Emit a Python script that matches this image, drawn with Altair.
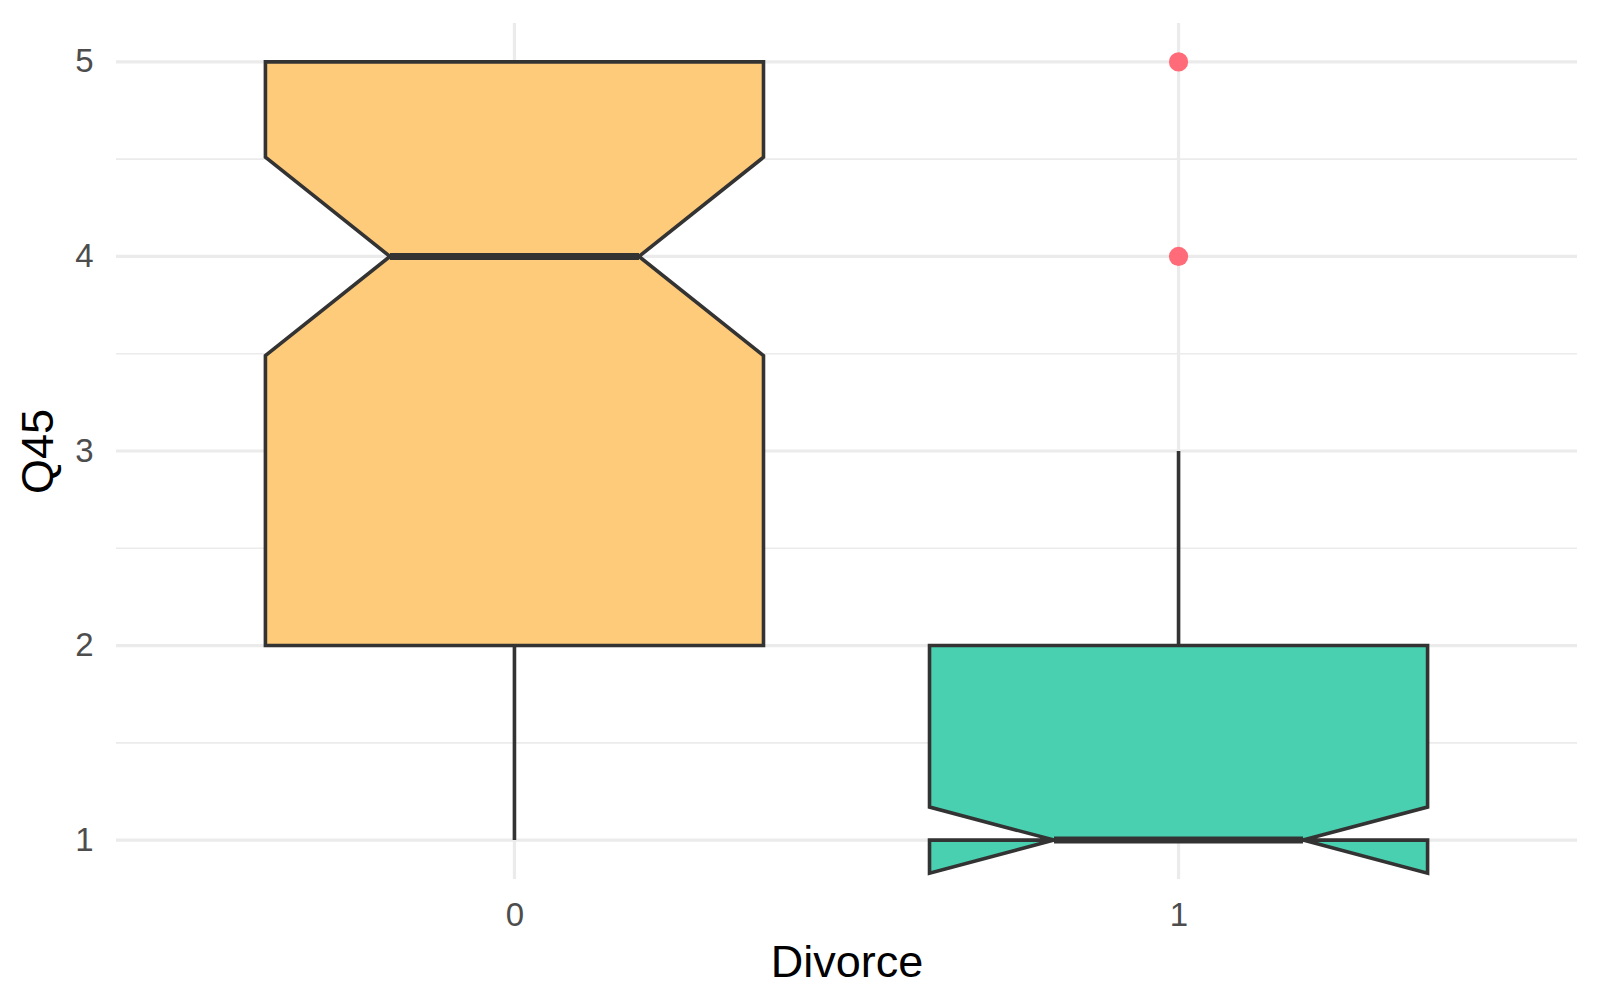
import altair as alt
import pandas as pd

# ---- data ----
divorce = [0, 1]
q1 = [2, 1]
median = [4, 1]
q3 = [5, 2]
whisker_low = [1, 1]
whisker_high = [5, 3]
notch_low = [3.49, 0.83]
notch_high = [4.51, 1.17]
outlier_group = [1, 1]
outlier_value = [5, 4]
fill_colors = ["#FECB7A", "#49D0B0"]
outlier_color = "#FF6B78"
y_ticks = [1, 2, 3, 4, 5]
y_minor = [1.5, 2.5, 3.5, 4.5]

BOX_W = 0.75
NOTCH_W = 0.5
LINE = "#333333"
GRID = "#EBEBEB"
FONT = "Liberation Sans"

# ---- geometry built from the statistics ----
fill_rows, outline_rows, median_rows, whisker_rows = [], [], [], []
piece = 0
for i, xc in enumerate(divorce):
    g = str(xc)
    xmin, xmax = xc - BOX_W / 2, xc + BOX_W / 2
    ind = (BOX_W - BOX_W * NOTCH_W) / 2
    lo, q, md, u, hi = notch_low[i], q1[i], median[i], q3[i], notch_high[i]

    def nx(y):
        if lo <= y <= md and md > lo:
            return xmin + ind * (y - lo) / (md - lo)
        if md <= y <= hi and hi > md:
            return xmin + ind * (hi - y) / (hi - md)
        return xmin

    def add_piece(ys, left, right):
        global piece
        for k, y in enumerate(ys):
            fill_rows.append({"grp": g, "piece": piece, "ord": k, "yv": y,
                              "xv": left(y), "xv2": right(y)})
        piece += 1

    mirror = lambda f: (lambda y: 2 * xc - f(y))
    # upper half
    top_ys = sorted(set([md, min(hi, u), u]))
    if len(top_ys) > 1:
        add_piece(top_ys, nx, mirror(nx))
    if hi > u:
        add_piece([u, hi], lambda y: xmin, nx)
        add_piece([u, hi], mirror(nx), lambda y: xmax)
    # lower half
    bot_ys = sorted(set([q, max(lo, q), md]))
    if len(bot_ys) > 1:
        add_piece(bot_ys, nx, mirror(nx))
    if lo < q:
        add_piece([lo, q], lambda y: xmin, nx)
        add_piece([lo, q], mirror(nx), lambda y: xmax)

    px = [xmin, xmin, xmin + ind, xmin, xmin, xmax, xmax, xmax - ind, xmax, xmax, xmin]
    py = [u, hi, md, lo, q, q, lo, md, hi, u, u]
    for k, (a, b) in enumerate(zip(px, py)):
        outline_rows.append({"grp": g, "ord": k, "xv": a, "yv": b})
    median_rows.append({"yv": md, "xv": xmin + ind, "xv2": xmax - ind})
    whisker_rows.append({"xv": xc, "yv": u, "yv2": whisker_high[i]})
    whisker_rows.append({"xv": xc, "yv": whisker_low[i], "yv2": q})

fill_df = pd.DataFrame(fill_rows)
outline_df = pd.DataFrame(outline_rows)
median_df = pd.DataFrame(median_rows)
whisker_df = pd.DataFrame(whisker_rows)
out_df = pd.DataFrame({"xv": outlier_group, "yv": outlier_value})
hmajor_df = pd.DataFrame({"yv": y_ticks})
hminor_df = pd.DataFrame({"yv": y_minor})
vmajor_df = pd.DataFrame({"xv": divorce})

xscale = alt.Scale(domain=[-0.6, 1.6], nice=False, zero=False)
yscale = alt.Scale(domain=[0.8, 5.2], nice=False, zero=False)
xaxis = alt.Axis(values=divorce, format="d", grid=False, ticks=False, tickSize=0,
                 domain=False, labelPadding=20, titleY=83, titleBaseline="middle")
yaxis = alt.Axis(values=y_ticks, format="d", grid=False, ticks=False, tickSize=0,
                 domain=False, labelPadding=23, titleX=-78, titleY=428,
                 titleAngle=-90, titleAlign="center", titleBaseline="middle")


def X(field="xv"):
    return alt.X(f"{field}:Q", scale=xscale, axis=xaxis, title="Divorce", stack=None)


def Y(field="yv"):
    return alt.Y(f"{field}:Q", scale=yscale, axis=yaxis, title="Q45", stack=None)


grid_minor = alt.Chart(hminor_df).mark_rule(color=GRID, strokeWidth=1.7).encode(y=Y())
grid_major = alt.Chart(hmajor_df).mark_rule(color=GRID, strokeWidth=3.2).encode(y=Y())
grid_v = alt.Chart(vmajor_df).mark_rule(color=GRID, strokeWidth=3.2).encode(x=X())

outliers = alt.Chart(out_df).mark_circle(size=370, opacity=1, color=outlier_color).encode(
    x=X(), y=Y())

whiskers = alt.Chart(whisker_df).mark_rule(color=LINE, strokeWidth=3.6).encode(
    x=X(), y=Y(), y2="yv2:Q")

fills = alt.Chart(fill_df).mark_area(orient="horizontal", opacity=1, strokeWidth=0).encode(
    y=Y(), x=X(), x2="xv2:Q",
    color=alt.Color("grp:N", scale=alt.Scale(domain=[str(d) for d in divorce], range=fill_colors),
                    legend=None),
    detail="piece:N",
)

outline = alt.Chart(outline_df).mark_line(color=LINE, strokeWidth=3.6, strokeCap="square",
                                          strokeJoin="miter").encode(
    x=X(), y=Y(), detail="grp:N", order=alt.Order("ord:Q"))

medians = alt.Chart(median_df).mark_rule(color=LINE, strokeWidth=7).encode(
    x=X(), x2="xv2:Q", y=Y())

chart = alt.layer(grid_minor, grid_major, grid_v, outliers, whiskers, fills, outline, medians).properties(
    width=1461, height=856,
    padding={"left": 116, "top": 23, "right": 23, "bottom": 129},
    autosize="none",
    background="white",
).configure_view(stroke=None).configure_axis(
    labelFont=FONT, labelFontSize=33, labelColor="#4D4D4D",
    titleFont=FONT, titleFontSize=45, titleColor="#000000", titleFontWeight="normal",
)

chart.save("out.html", embed_options={"renderer": "svg", "actions": False})
